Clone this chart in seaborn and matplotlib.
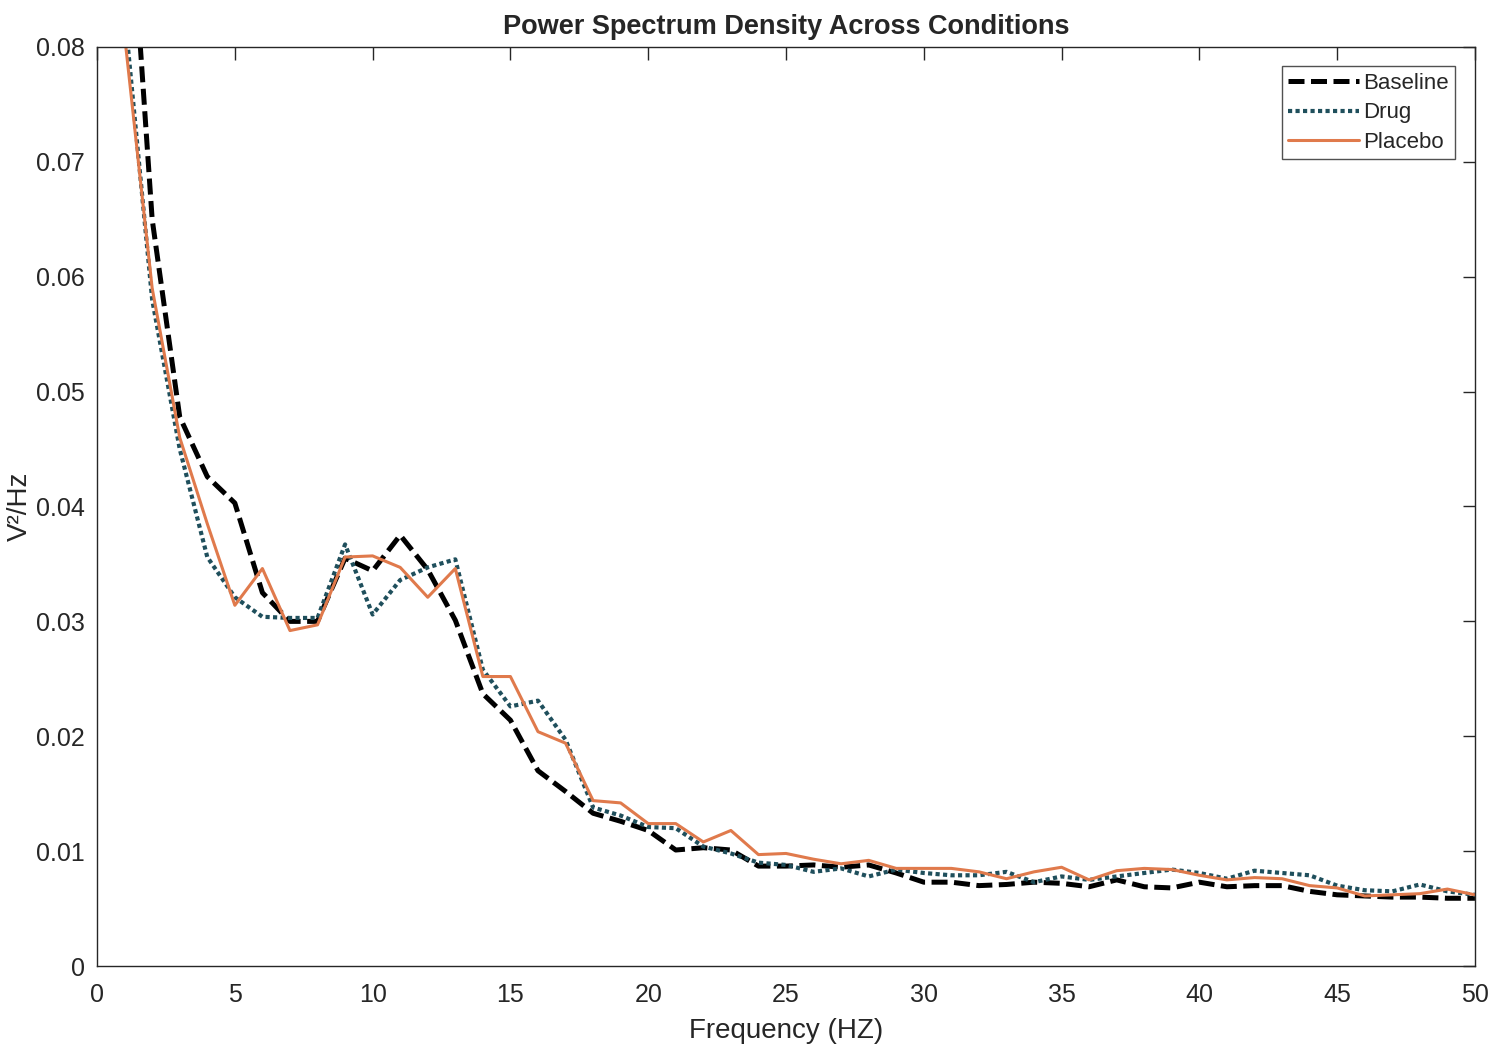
import numpy as np
import pandas as pd
import matplotlib
matplotlib.use("Agg")
import matplotlib.pyplot as plt
import seaborn as sns

# Frekvenser (Hz) och uppskattade PSD-värden per tillstånd
freq = list(range(1, 51))

baseline = [0.100, 0.065, 0.0478, 0.0426, 0.0403, 0.0325, 0.0300, 0.0300, 0.0355, 0.0344,
            0.0375, 0.0345, 0.0301, 0.0237, 0.0214, 0.0170, 0.0152, 0.0133, 0.0126, 0.0118,
            0.0101, 0.0103, 0.0101, 0.0087, 0.0087, 0.0088, 0.0086, 0.0088, 0.0081, 0.0073,
            0.0073, 0.0070, 0.0071, 0.0073, 0.0072, 0.0069, 0.0075, 0.0069, 0.0068, 0.0073,
            0.0069, 0.0070, 0.0070, 0.0065, 0.0062, 0.0061, 0.0060, 0.0060, 0.0059, 0.0059]

drug = [0.083, 0.058, 0.045, 0.0356, 0.0321, 0.0304, 0.0303, 0.0303, 0.0367, 0.0306,
        0.0336, 0.0347, 0.0354, 0.0258, 0.0226, 0.0231, 0.0197, 0.0138, 0.0131, 0.0121,
        0.0120, 0.0104, 0.0098, 0.0090, 0.0088, 0.0082, 0.0085, 0.0078, 0.0084, 0.0081,
        0.0079, 0.0079, 0.0082, 0.0073, 0.0078, 0.0075, 0.0078, 0.0081, 0.0084, 0.0081,
        0.0076, 0.0083, 0.0081, 0.0079, 0.0070, 0.0066, 0.0065, 0.0071, 0.0065, 0.0062]

placebo = [0.081, 0.059, 0.046, 0.0385, 0.0314, 0.0346, 0.0292, 0.0297, 0.0356, 0.0357,
           0.0347, 0.0321, 0.0346, 0.0252, 0.0252, 0.0204, 0.0194, 0.0144, 0.0142, 0.0124,
           0.0124, 0.0108, 0.0118, 0.0097, 0.0098, 0.0093, 0.0089, 0.0092, 0.0085, 0.0085,
           0.0085, 0.0082, 0.0076, 0.0082, 0.0086, 0.0075, 0.0083, 0.0085, 0.0084, 0.0079,
           0.0075, 0.0077, 0.0076, 0.0070, 0.0068, 0.0061, 0.0062, 0.0063, 0.0067, 0.0062]

conditions = ["Baseline", "Drug", "Placebo"]
colors = {"Baseline": "#000000", "Drug": "#1f4f5c", "Placebo": "#e07a4c"}
styles = {"Baseline": (0, (3.2, 1.3)), "Drug": (0, (1.0, 0.8)), "Placebo": "-"}
widths = {"Baseline": 3.6, "Drug": 3.0, "Placebo": 2.2}

df = pd.DataFrame({"Frequency": freq, "Baseline": baseline, "Drug": drug, "Placebo": placebo})
long_df = df.melt(id_vars="Frequency", var_name="Condition", value_name="PSD")

sns.set_style("white")
plt.rcParams['font.family'] = ['Liberation Sans', 'DejaVu Sans']

fig = plt.figure(figsize=(15, 10.48), dpi=100)
ax = fig.add_axes([0.0647, 0.0782, 0.9186, 0.877])

for cond in conditions:
    sub = long_df[long_df["Condition"] == cond]
    sns.lineplot(data=sub, x="Frequency", y="PSD", ax=ax, color=colors[cond],
                 linewidth=widths[cond], linestyle=styles[cond], label=cond)

ax.set_xlim(0, 50)
ax.set_ylim(0, 0.08)
ax.set_xticks(np.arange(0, 51, 5))
ax.set_yticks(np.arange(0, 0.081, 0.01))
ax.set_yticklabels(["0"] + [f"{v:.2f}" for v in np.arange(0.01, 0.081, 0.01)])
ax.tick_params(direction="in", length=9, width=1, top=True, right=True,
               labelsize=18, colors="#262626")
ax.tick_params(axis="x", pad=12)
ax.tick_params(axis="y", pad=9)
for s in ax.spines.values():
    s.set_color("#262626")
    s.set_linewidth(1)

ax.set_xlabel("Frequency (HZ)", fontsize=20, color="#262626", labelpad=8)
ax.set_ylabel("V\u00b2/Hz", fontsize=20, color="#262626", labelpad=2)
ax.set_title("Power Spectrum Density Across Conditions", fontsize=19.5, fontweight="bold", pad=9)

leg = ax.legend(loc="upper right", fontsize=16, handlelength=3.2, handletextpad=0.15,
                labelspacing=0.38, borderpad=0.3, borderaxespad=0, frameon=True,
                fancybox=False, bbox_to_anchor=(0.9855, 0.979))
leg.get_frame().set_edgecolor("#262626")
leg.get_frame().set_linewidth(1)

fig.savefig("out.png", dpi=100)
